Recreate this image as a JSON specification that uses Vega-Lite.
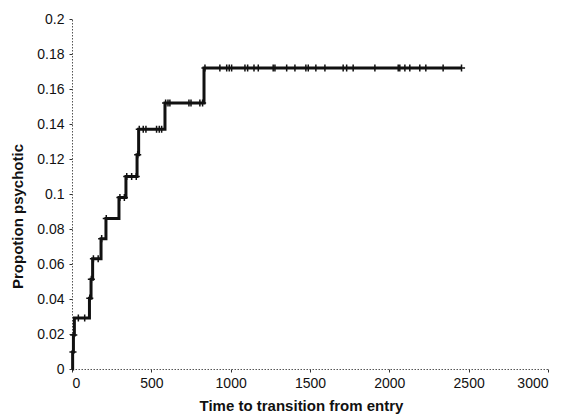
{
  "$schema": "https://vega.github.io/schema/vega-lite/v6.json",
  "autosize": "none",
  "width": 476,
  "height": 350,
  "padding": {"left": 72, "top": 19, "right": 19, "bottom": 50},
  "background": "white",
  "config": {
    "view": {"stroke": null},
    "font": "Liberation Sans",
    "axis": {
      "grid": false,
      "domainColor": "#555",
      "domainDash": [1.5, 1.5],
      "domainWidth": 1,
      "tickColor": "#333",
      "tickSize": 3,
      "labelColor": "#111",
      "labelFont": "Liberation Sans",
      "labelFontSize": 14,
      "titleFont": "Liberation Sans",
      "titleFontSize": 15,
      "titleFontWeight": "bold",
      "titleColor": "#111"
    }
  },
  "datasets": {
    "steps": [
      {"time": 0, "prop": 0},
      {"time": 4, "prop": 0.0097},
      {"time": 9, "prop": 0.0194},
      {"time": 15, "prop": 0.0291},
      {"time": 110, "prop": 0.0405},
      {"time": 120, "prop": 0.0513},
      {"time": 130, "prop": 0.063},
      {"time": 183, "prop": 0.0745},
      {"time": 214, "prop": 0.086},
      {"time": 296, "prop": 0.098},
      {"time": 340, "prop": 0.11},
      {"time": 410, "prop": 0.1225},
      {"time": 420, "prop": 0.137},
      {"time": 586, "prop": 0.152},
      {"time": 832, "prop": 0.172},
      {"time": 2455, "prop": 0.172}
    ],
    "marks": [
      {"time": 6, "prop": 0.0097},
      {"time": 11, "prop": 0.0194},
      {"time": 40, "prop": 0.0291},
      {"time": 80, "prop": 0.0291},
      {"time": 112, "prop": 0.0405},
      {"time": 122, "prop": 0.0513},
      {"time": 135, "prop": 0.063},
      {"time": 165, "prop": 0.063},
      {"time": 187, "prop": 0.0745},
      {"time": 216, "prop": 0.086},
      {"time": 302, "prop": 0.098},
      {"time": 330, "prop": 0.098},
      {"time": 345, "prop": 0.11},
      {"time": 376, "prop": 0.11},
      {"time": 405, "prop": 0.11},
      {"time": 414, "prop": 0.1225},
      {"time": 424, "prop": 0.137},
      {"time": 449, "prop": 0.137},
      {"time": 466, "prop": 0.137},
      {"time": 533, "prop": 0.137},
      {"time": 550, "prop": 0.137},
      {"time": 565, "prop": 0.137},
      {"time": 590, "prop": 0.152},
      {"time": 605, "prop": 0.152},
      {"time": 617, "prop": 0.152},
      {"time": 737, "prop": 0.152},
      {"time": 750, "prop": 0.152},
      {"time": 806, "prop": 0.152},
      {"time": 823, "prop": 0.152},
      {"time": 838, "prop": 0.172},
      {"time": 932, "prop": 0.172},
      {"time": 975, "prop": 0.172},
      {"time": 991, "prop": 0.172},
      {"time": 1006, "prop": 0.172},
      {"time": 1090, "prop": 0.172},
      {"time": 1107, "prop": 0.172},
      {"time": 1147, "prop": 0.172},
      {"time": 1174, "prop": 0.172},
      {"time": 1268, "prop": 0.172},
      {"time": 1279, "prop": 0.172},
      {"time": 1353, "prop": 0.172},
      {"time": 1405, "prop": 0.172},
      {"time": 1474, "prop": 0.172},
      {"time": 1489, "prop": 0.172},
      {"time": 1537, "prop": 0.172},
      {"time": 1594, "prop": 0.172},
      {"time": 1709, "prop": 0.172},
      {"time": 1731, "prop": 0.172},
      {"time": 1772, "prop": 0.172},
      {"time": 1909, "prop": 0.172},
      {"time": 2056, "prop": 0.172},
      {"time": 2066, "prop": 0.172},
      {"time": 2098, "prop": 0.172},
      {"time": 2129, "prop": 0.172},
      {"time": 2192, "prop": 0.172},
      {"time": 2230, "prop": 0.172},
      {"time": 2339, "prop": 0.172},
      {"time": 2455, "prop": 0.172}
    ]
  },
  "encoding": {
    "x": {
      "field": "time",
      "type": "quantitative",
      "scale": {"domain": [0, 3000], "nice": false},
      "axis": {"values": [0, 500, 1000, 1500, 2000, 2500, 3000], "format": "d", "title": "Time to transition from entry", "labelPadding": 4, "titlePadding": 8, "titleX": 229}
    },
    "y": {
      "field": "prop",
      "type": "quantitative",
      "scale": {"domain": [0, 0.2], "nice": false},
      "axis": {"values": [0, 0.02, 0.04, 0.06, 0.08, 0.1, 0.12, 0.14, 0.16, 0.18, 0.2], "format": ".2~f", "title": "Propotion psychotic", "labelPadding": 5, "titlePadding": 11, "titleY": 197}
    }
  },
  "layer": [
    {
      "data": {"name": "steps"},
      "mark": {"type": "line", "interpolate": "step-after", "color": "#111", "strokeWidth": 3}
    },
    {
      "data": {"name": "marks"},
      "mark": {"type": "point", "shape": "M-1,0H1M0,-1V1", "filled": false, "color": "#111", "strokeWidth": 1.5, "size": 50, "opacity": 1}
    }
  ]
}
